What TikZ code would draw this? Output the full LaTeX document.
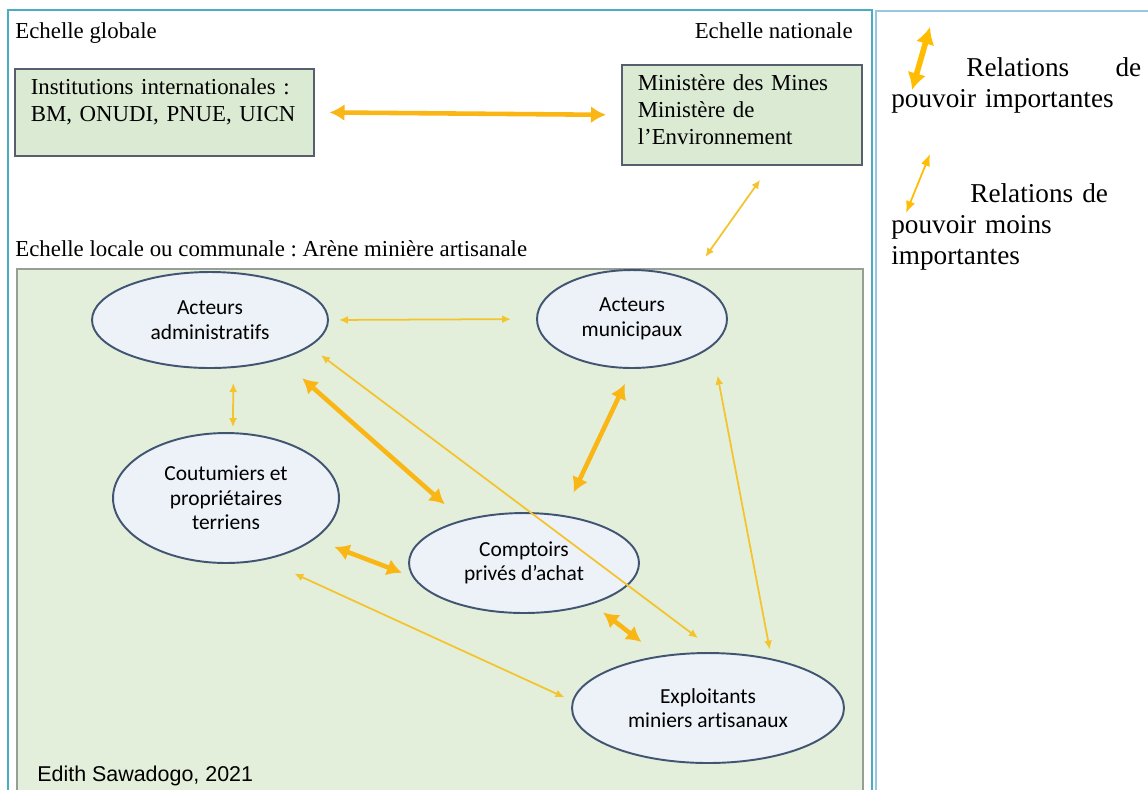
\documentclass[tikz,border=0pt]{standalone}
\usepackage{fontspec}
\setmainfont{Liberation Serif}
\newfontfamily\calibrifont[Ligatures=NoCommon]{Carlito}
\newfontfamily\arialfont{Liberation Sans}
\frenchspacing
\usetikzlibrary{arrows.meta,shapes.geometric,positioning}
\definecolor{frameblue}{RGB}{75,172,198}
\definecolor{keyblue}{RGB}{150,200,222}
\definecolor{arenafill}{RGB}{227,239,219}
\definecolor{arenaedge}{RGB}{150,158,150}
\definecolor{boxfill}{RGB}{219,234,211}
\definecolor{boxedge}{RGB}{85,95,110}
\definecolor{actorfill}{RGB}{237,241,248}
\definecolor{actoredge}{RGB}{65,85,115}
\definecolor{relgold}{RGB}{250,182,20}
\definecolor{relyellow}{RGB}{243,196,45}
\definecolor{keygold}{RGB}{255,188,0}
\tikzset{
    scale label/.style={font=\fontsize{13}{15.2}\selectfont, inner sep=0pt},
    scale box/.style={rectangle, draw=boxedge, fill=boxfill, line width=0.9pt, align=left,
        anchor=north west, inner xsep=0.32cm, inner ysep=0.2cm, font=\fontsize{13}{15.2}\selectfont},
    actor/.style={ellipse, draw=actoredge, fill=actorfill, line width=1.1pt, inner sep=0pt,
        align=center, font=\calibrifont\fontsize{12.2}{14}\selectfont},
    strong rel/.style={<->, >={Latex[length=3mm,width=3.4mm]}, draw=relgold, line width=2.6pt},
    weak rel/.style={<->, >={Latex[length=1.8mm,width=1.6mm]}, draw=relyellow, line width=1pt},
    key text/.style={anchor=north west, inner sep=0pt, text width=5cm, align=left,
        font=\fontsize{15.5}{17.6}\selectfont}
}
\begin{document}
\begin{tikzpicture}[x=0.02cm, y=-0.02cm]
	\path[use as bounding box, fill=white] (0,0) rectangle (1148,789);
	% frames
	\draw[frameblue, line width=1.2pt] (8,10) rectangle (872,830);
	\draw[keyblue, line width=0.7pt] (876,830) -- (876,11) -- (1160,11);
	% global and national scale
	\node[scale label, anchor=base west] (global) at (15,38) {Echelle globale};
	\node[scale label, anchor=base east] (national) at (853,38) {Echelle nationale};
	\node[scale box, text width=5.34cm] (inst) at (14,68)
		{Institutions internationales :\\BM, ONUDI, PNUE, UICN\rule[-0.49cm]{0pt}{0.49cm}};
	\node[scale box, text width=4.16cm] (mines) at (621,64)
		{Minist\`ere des Mines\\Minist\`ere de\\l’Environnement\rule[-0.22cm]{0pt}{0.22cm}};
	\draw[strong rel, shorten <=0.3cm, shorten >=0.3cm] (inst.east) -- (mines.west);
	% local arena
	\node[scale label, anchor=base west] (local) at (15,256)
		{Echelle locale ou communale : Ar\`ene mini\`ere artisanale};
	\node[rectangle, draw=arenaedge, fill=arenafill, line width=1pt, anchor=north west,
		minimum width=16.92cm, minimum height=10.64cm] (arena) at (16,268) {};
	\draw[weak rel, shorten <=0.34cm, shorten >=0.27cm] (mines.-61.6) -- (arena.46.1);
	\begin{scope}[every node/.style={actor}]
		\node[minimum width=4.72cm, minimum height=1.92cm] (admin) at (210,320) {Acteurs\\administratifs};
		\node[minimum width=3.8cm, minimum height=1.96cm] (munic) at (632,319) {Acteurs\\municipaux};
		\node[minimum width=4.52cm, minimum height=2.6cm] (cout) at (226,498) {Coutumiers et\\propri\'etaires\\terriens};
		\node[minimum width=4.6cm, minimum height=2cm] (compt) at (524,563) {Comptoirs\\priv\'es d’achat};
		\node[minimum width=5.44cm, minimum height=2.2cm] (exploit) at (708,708) {Exploitants\\miniers artisanaux};
	\end{scope}
	\draw[weak rel, shorten <=0.2cm, shorten >=0.5cm] (admin.east) -- (munic.west);
	\draw[weak rel, shorten <=0.3cm, shorten >=0.1cm] (admin.-64) -- (cout.84);
	\draw[strong rel, shorten <=0.57cm, shorten >=0.47cm] (admin.-29.8) -- (compt.145.3);
	\draw[weak rel, shorten <=0.28cm, shorten >=0.47cm] (admin.-15.9) -- (exploit.81.9);
	\draw[strong rel, shorten <=0.33cm, shorten >=0.5cm] (munic.-90) -- (compt.51.9);
	\draw[weak rel, shorten <=0.59cm, shorten >=0.18cm] (munic.-19) -- (exploit.38.1);
	\draw[strong rel, shorten <=0.42cm, shorten >=0.22cm] (cout.-25.8) -- (compt.187.2);
	\draw[weak rel, shorten <=0.65cm, shorten >=0.17cm] (cout.-58.5) -- (exploit.177.7);
	\draw[strong rel, shorten <=0.27cm, shorten >=0.45cm] (compt.-31.1) -- (exploit.133.3);
	\node[font=\arialfont\fontsize{12.2}{14}\selectfont, inner sep=0pt, anchor=base west] (credit)
		at (37,781) {Edith Sawadogo, 2021};
	% legend
	\coordinate (strong top) at (930,27);
	\coordinate (strong bottom) at (912,90);
	\coordinate (weak top) at (930,154);
	\coordinate (weak bottom) at (906,213);
	\draw[<->, >={Latex[length=3.4mm,width=3.8mm]}, keygold, line width=3.2pt] (strong bottom) -- (strong top);
	\draw[<->, >={Latex[length=2.4mm,width=1.9mm]}, keygold, line width=1pt] (weak bottom) -- (weak top);
	\node[key text] (strong key) at (891,57) {\hspace*{1.5cm}Relations\hfill de\\pouvoir importantes};
	\node[key text] (weak key) at (891,183) {\hspace*{1.58cm}Relations de\\pouvoir moins\\importantes};
\end{tikzpicture}
\end{document}
